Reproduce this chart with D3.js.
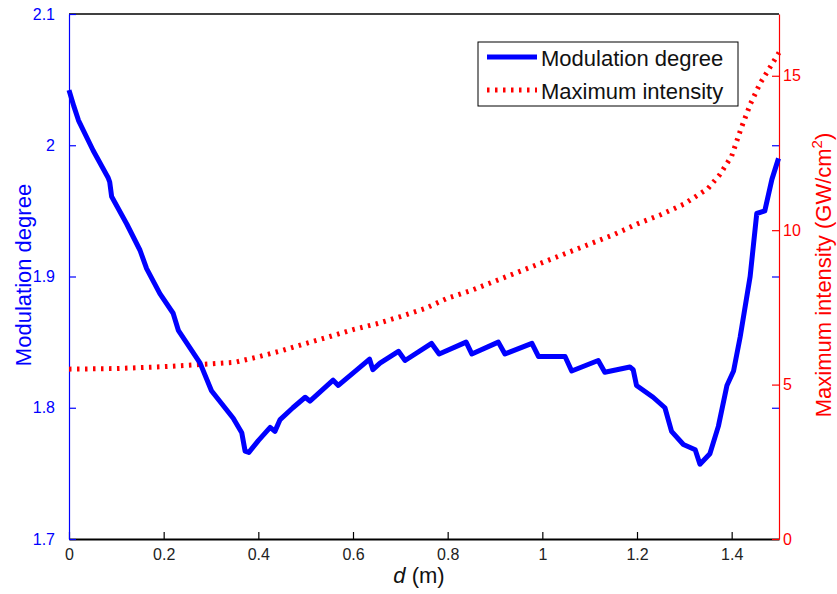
<!DOCTYPE html>
<html>
<head>
  <meta charset="UTF-8">
  <title>Modulation degree and maximum intensity</title>
  <style>
    body { margin: 0; background: #fff; }
    svg text { font-family: "Liberation Sans", Arial, sans-serif; }
  </style>
</head>
<body>
<svg id="chart" width="837" height="594"></svg>
<script src="https://d3js.org/d3.v7.min.js"></script>
<script>

// distance d (m) and modulation degree (blue, left axis)
var modX = [0, 0.01, 0.02, 0.051, 0.083, 0.086, 0.09, 0.122, 0.15, 0.164, 0.192, 0.22, 0.231, 0.277, 0.301,
  0.347, 0.365, 0.372, 0.38, 0.40, 0.425, 0.435, 0.446, 0.473, 0.499, 0.509, 0.558, 0.569, 0.615, 0.635,
  0.642, 0.657, 0.696, 0.71, 0.766, 0.782, 0.839, 0.851, 0.907, 0.921, 0.978, 0.992, 1.048, 1.062, 1.118,
  1.132, 1.185, 1.192, 1.199, 1.234, 1.259, 1.273, 1.298, 1.323, 1.333, 1.354, 1.372, 1.39, 1.404, 1.418,
  1.439, 1.453, 1.47, 1.485, 1.499];
var modY = [2.042, 2.03, 2.019, 1.996, 1.975, 1.972, 1.961, 1.94, 1.92, 1.906, 1.887, 1.872, 1.859, 1.834, 1.813,
  1.792, 1.781, 1.767, 1.766, 1.775, 1.785, 1.782, 1.791, 1.8, 1.808, 1.805, 1.821, 1.817, 1.831, 1.837,
  1.829, 1.834, 1.843, 1.836, 1.849, 1.841, 1.85, 1.841, 1.85, 1.841, 1.849, 1.839, 1.839, 1.828, 1.836,
  1.827, 1.831, 1.829, 1.817, 1.808, 1.8, 1.782, 1.772, 1.768, 1.757, 1.765, 1.786, 1.817, 1.828, 1.854,
  1.9, 1.948, 1.95, 1.974, 1.99];

// maximum intensity in GW/cm2 (red, right axis)
var intX = [0, 0.1, 0.2, 0.3, 0.35, 0.4, 0.45, 0.5, 0.55, 0.6, 0.65, 0.7, 0.75, 0.8, 0.85, 0.9, 0.95, 1.0,
  1.05, 1.1, 1.15, 1.2, 1.25, 1.3, 1.35, 1.375, 1.4, 1.42, 1.44, 1.46, 1.48, 1.5];
var intY = [5.5, 5.52, 5.58, 5.67, 5.72, 5.9, 6.1, 6.33, 6.55, 6.78, 6.97, 7.2, 7.45, 7.8, 8.05, 8.35, 8.65, 8.95,
  9.25, 9.55, 9.85, 10.2, 10.5, 10.85, 11.35, 11.8, 12.4, 13.3, 14.1, 14.75, 15.25, 15.75];

var xTicks = [0, 0.2, 0.4, 0.6, 0.8, 1, 1.2, 1.4];
var leftTicks = [1.7, 1.8, 1.9, 2, 2.1];
var rightTicks = [0, 5, 10, 15];
var legendNames = ["Modulation degree", "Maximum intensity"];

var svg = d3.select("#chart");
var L = 69, R = 779, T = 14, B = 539;

var x = d3.scaleLinear().domain([0, 1.5]).range([L, R]);
var yL = d3.scaleLinear().domain([1.7, 2.1]).range([B, T]);
var yR = d3.scaleLinear().domain([0, 17]).range([B, T]);

// top box line
svg.append("line").attr("x1", L).attr("x2", R).attr("y1", T).attr("y2", T)
  .attr("stroke", "#000").attr("stroke-width", 1.5);

// bottom axis
var gx = svg.append("g").attr("transform", "translate(0," + B + ")")
  .call(d3.axisBottom(x).tickValues(xTicks).tickSizeInner(-7).tickSizeOuter(0).tickPadding(10)
    .tickFormat(function(d) { return d3.format("")(d); }));
gx.select(".domain").attr("stroke", "#000").attr("stroke-width", 2);
gx.selectAll(".tick line").attr("stroke", "#000").attr("stroke-width", 1.2);
gx.selectAll("text").attr("font-size", 16).attr("fill", "#222");

// left axis
var gl = svg.append("g").attr("transform", "translate(" + L + ",0)")
  .call(d3.axisLeft(yL).tickValues(leftTicks).tickSizeInner(-7).tickSizeOuter(0).tickPadding(14)
    .tickFormat(function(d) { return d3.format("")(d); }));
gl.select(".domain").attr("stroke", "blue").attr("stroke-width", 1.2);
gl.selectAll(".tick line").attr("stroke", "blue").attr("stroke-width", 1.2);
gl.selectAll("text").attr("font-size", 16).attr("fill", "blue");

// mirrored blue ticks on right side
svg.append("g").attr("transform", "translate(" + R + ",0)")
  .call(d3.axisRight(yL).tickValues([1.8, 1.9, 2]).tickSizeInner(-7).tickSizeOuter(0).tickFormat(""))
  .call(function(g) { g.select(".domain").remove(); g.selectAll("line").attr("stroke", "blue").attr("stroke-width", 1.2); });

// right axis
var gr = svg.append("g").attr("transform", "translate(" + R + ",0)")
  .call(d3.axisRight(yR).tickValues(rightTicks).tickSizeInner(-7).tickSizeOuter(0).tickPadding(4));
gr.select(".domain").attr("stroke", "red").attr("stroke-width", 1.2);
gr.selectAll(".tick line").attr("stroke", "red").attr("stroke-width", 1.2);
gr.selectAll("text").attr("font-size", 16).attr("fill", "red");

// curves
var modLine = d3.line().x(function(d, i) { return x(modX[i]); }).y(function(d) { return yL(d); });
var intLine = d3.line().x(function(d, i) { return x(intX[i]); }).y(function(d) { return yR(d); });

svg.append("path").datum(intY).attr("d", intLine)
  .attr("fill", "none").attr("stroke", "red").attr("stroke-width", 5).attr("stroke-dasharray", "2.5,5.5");
svg.append("path").datum(modY).attr("d", modLine)
  .attr("fill", "none").attr("stroke", "blue").attr("stroke-width", 5).attr("stroke-linejoin", "round");

// axis labels
svg.append("text").attr("transform", "translate(31,275) rotate(-90)")
  .attr("text-anchor", "middle").attr("font-size", 22).attr("fill", "blue").text("Modulation degree");

var rl = svg.append("text").attr("transform", "translate(831,275) rotate(-90)")
  .attr("text-anchor", "middle").attr("font-size", 22).attr("fill", "red");
rl.append("tspan").text("Maximum intensity (GW/cm");
rl.append("tspan").attr("font-size", 15).attr("dy", -9).text("2");
rl.append("tspan").attr("dy", 9).text(")");

var xl = svg.append("text").attr("x", 419).attr("y", 583).attr("text-anchor", "middle")
  .attr("font-size", 22).attr("fill", "#111");
xl.append("tspan").attr("font-style", "italic").text("d");
xl.append("tspan").text(" (m)");

// legend
var lg = svg.append("g").attr("transform", "translate(478,42)");
lg.append("rect").attr("width", 260).attr("height", 64)
  .attr("fill", "#fff").attr("stroke", "#000").attr("stroke-width", 1);
lg.append("line").attr("x1", 9).attr("x2", 59).attr("y1", 15).attr("y2", 15)
  .attr("stroke", "blue").attr("stroke-width", 5);
lg.append("line").attr("x1", 9).attr("x2", 59).attr("y1", 48).attr("y2", 48)
  .attr("stroke", "red").attr("stroke-width", 5).attr("stroke-dasharray", "2.5,5.5");
lg.selectAll("text.leg").data(legendNames).enter().append("text")
  .attr("class", "leg").attr("x", 63).attr("y", function(d, i) { return 24 + i * 33; })
  .attr("font-size", 22).attr("fill", "#111").text(function(d) { return d; });

</script>
</body>
</html>
